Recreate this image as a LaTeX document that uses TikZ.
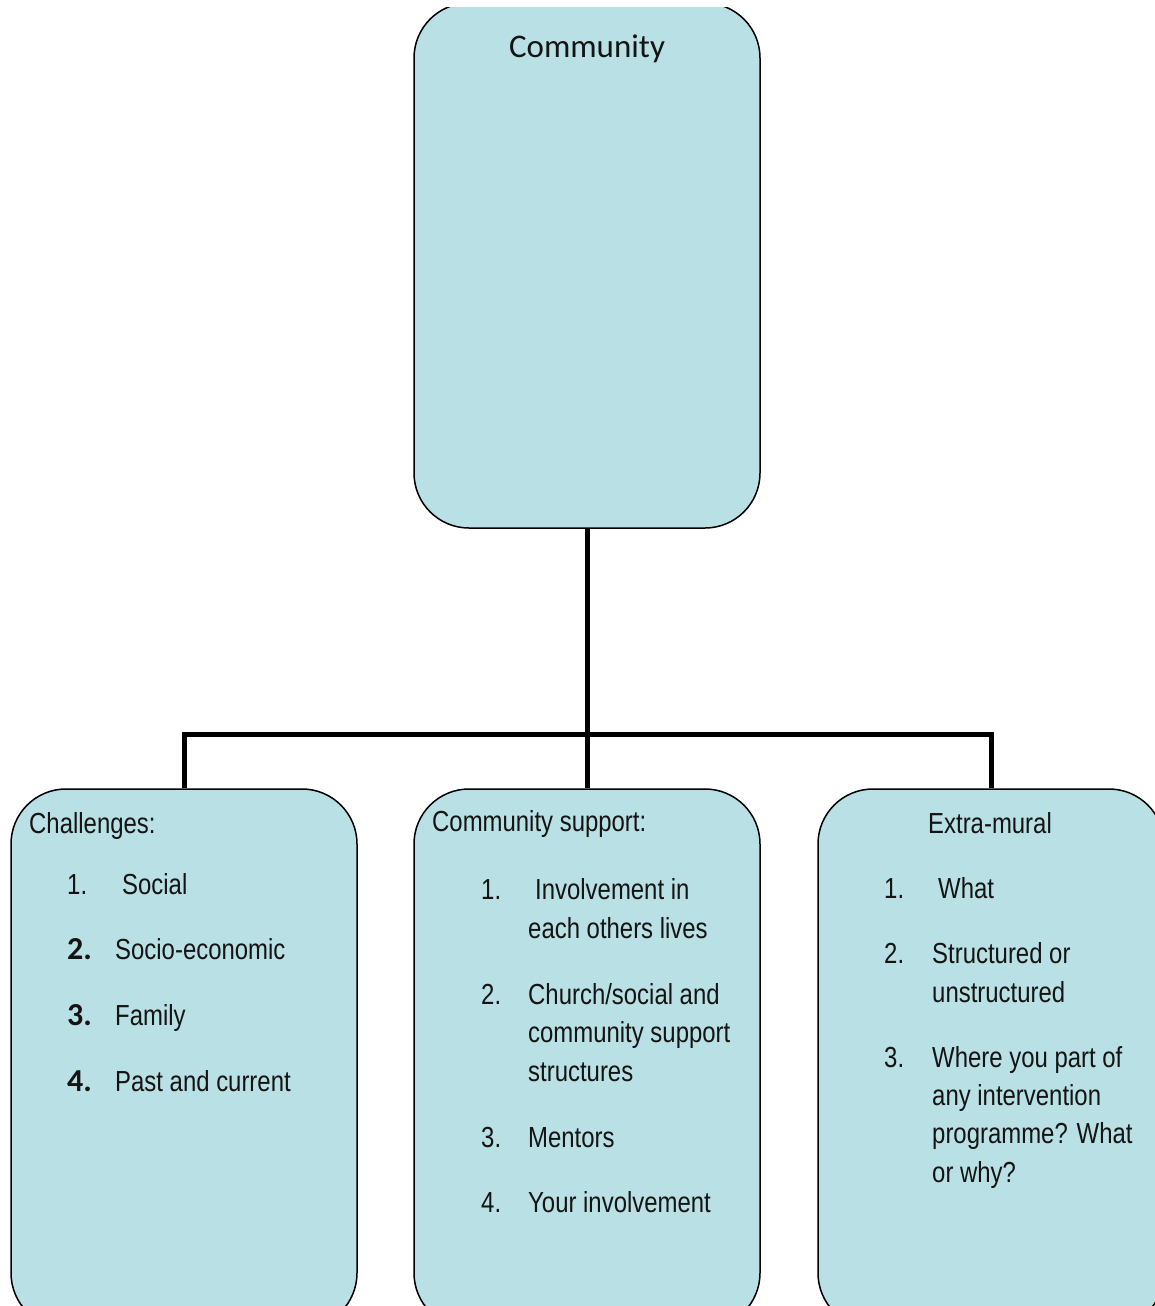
\documentclass[tikz,border=0pt]{standalone}
\usepackage{fontspec}
\setmainfont{Liberation Sans}
\newfontfamily\narrowfont{Liberation Sans}[FakeStretch=0.825]
\newfontfamily\calfont{Carlito}
\definecolor{boxfill}{RGB}{185,224,228}
\definecolor{ink}{RGB}{20,20,20}
\begin{document}
\begin{tikzpicture}[x=1pt,y=-1pt,
  panel/.style={draw=black,line width=1.5pt,fill=boxfill,rounded corners=55pt,
    inner sep=0pt,minimum width=346pt},
  conn/.style={draw=black,line width=5pt},
  txt/.style={anchor=base west,inner sep=0pt,text=ink,
    font=\narrowfont\fontsize{29}{38}\selectfont},
  bignum/.style={anchor=base west,inner sep=0pt,text=ink,
    font=\calfont\bfseries\fontsize{32}{38}\selectfont},
  title/.style={anchor=base,inner sep=0pt,text=ink,
    font=\calfont\fontsize{33}{40}\selectfont}]
\useasboundingbox (0,0) rectangle (1155,1306);
\clip (0,8) rectangle (1155,1306);

% boxes
\node[panel,minimum height=525pt] (top) at (587,265.5) {};
\node[panel,minimum height=539pt] (chal) at (184,1058.5) {};
\node[panel,minimum height=539pt] (supp) at (587,1058.5) {};
\node[panel,minimum height=539pt] (extra) at (991,1058.5) {};

% connectors
\coordinate (bus) at (587,734);
\draw[conn] (top.south) -- (bus);
\draw[conn] (bus) -| (chal.north);
\draw[conn] (bus) -| (extra.north);
\draw[conn] (bus) -- (supp.north);

% top box
\node[title] (ttl) at (587,58) {Community};

% challenges
\node[txt] (c0) at (29,833) {Challenges:};
\node[txt] (c1n) at (67,894) {1.};
\node[txt] (c1) at (122,894) {Social};
\node[bignum] (c2n) at (67,959) {2.};
\node[txt] (c2) at (115,959) {Socio-economic};
\node[bignum] (c3n) at (67,1025) {3.};
\node[txt] (c3) at (115,1025) {Family};
\node[bignum] (c4n) at (67,1091) {4.};
\node[txt] (c4) at (115,1091) {Past and current};

% community support
\node[txt] (s0) at (432,831) {Community support:};
\node[txt] (s1n) at (481,899) {1.};
\node[txt] (s1a) at (535,899) {Involvement in};
\node[txt] (s1b) at (528,938) {each others lives};
\node[txt] (s2n) at (481,1004) {2.};
\node[txt] (s2a) at (528,1004) {Church/social and};
\node[txt] (s2b) at (528,1042) {community support};
\node[txt] (s2c) at (528,1081) {structures};
\node[txt] (s3n) at (481,1147) {3.};
\node[txt] (s3) at (528,1147) {Mentors};
\node[txt] (s4n) at (481,1212) {4.};
\node[txt] (s4) at (528,1212) {Your involvement};

% extra-mural
\node[txt,anchor=base] (e0) at (990,833) {Extra-mural};
\node[txt] (e1n) at (884,898) {1.};
\node[txt] (e1) at (938,898) {What};
\node[txt] (e2n) at (884,963) {2.};
\node[txt] (e2a) at (932,963) {Structured or};
\node[txt] (e2b) at (932,1002) {unstructured};
\node[txt] (e3n) at (884,1067) {3.};
\node[txt] (e3a) at (932,1067) {Where you part of};
\node[txt] (e3b) at (932,1105) {any intervention};
\node[txt] (e3c) at (932,1143) {programme? What};
\node[txt] (e3d) at (932,1182) {or why?};
\end{tikzpicture}
\end{document}
